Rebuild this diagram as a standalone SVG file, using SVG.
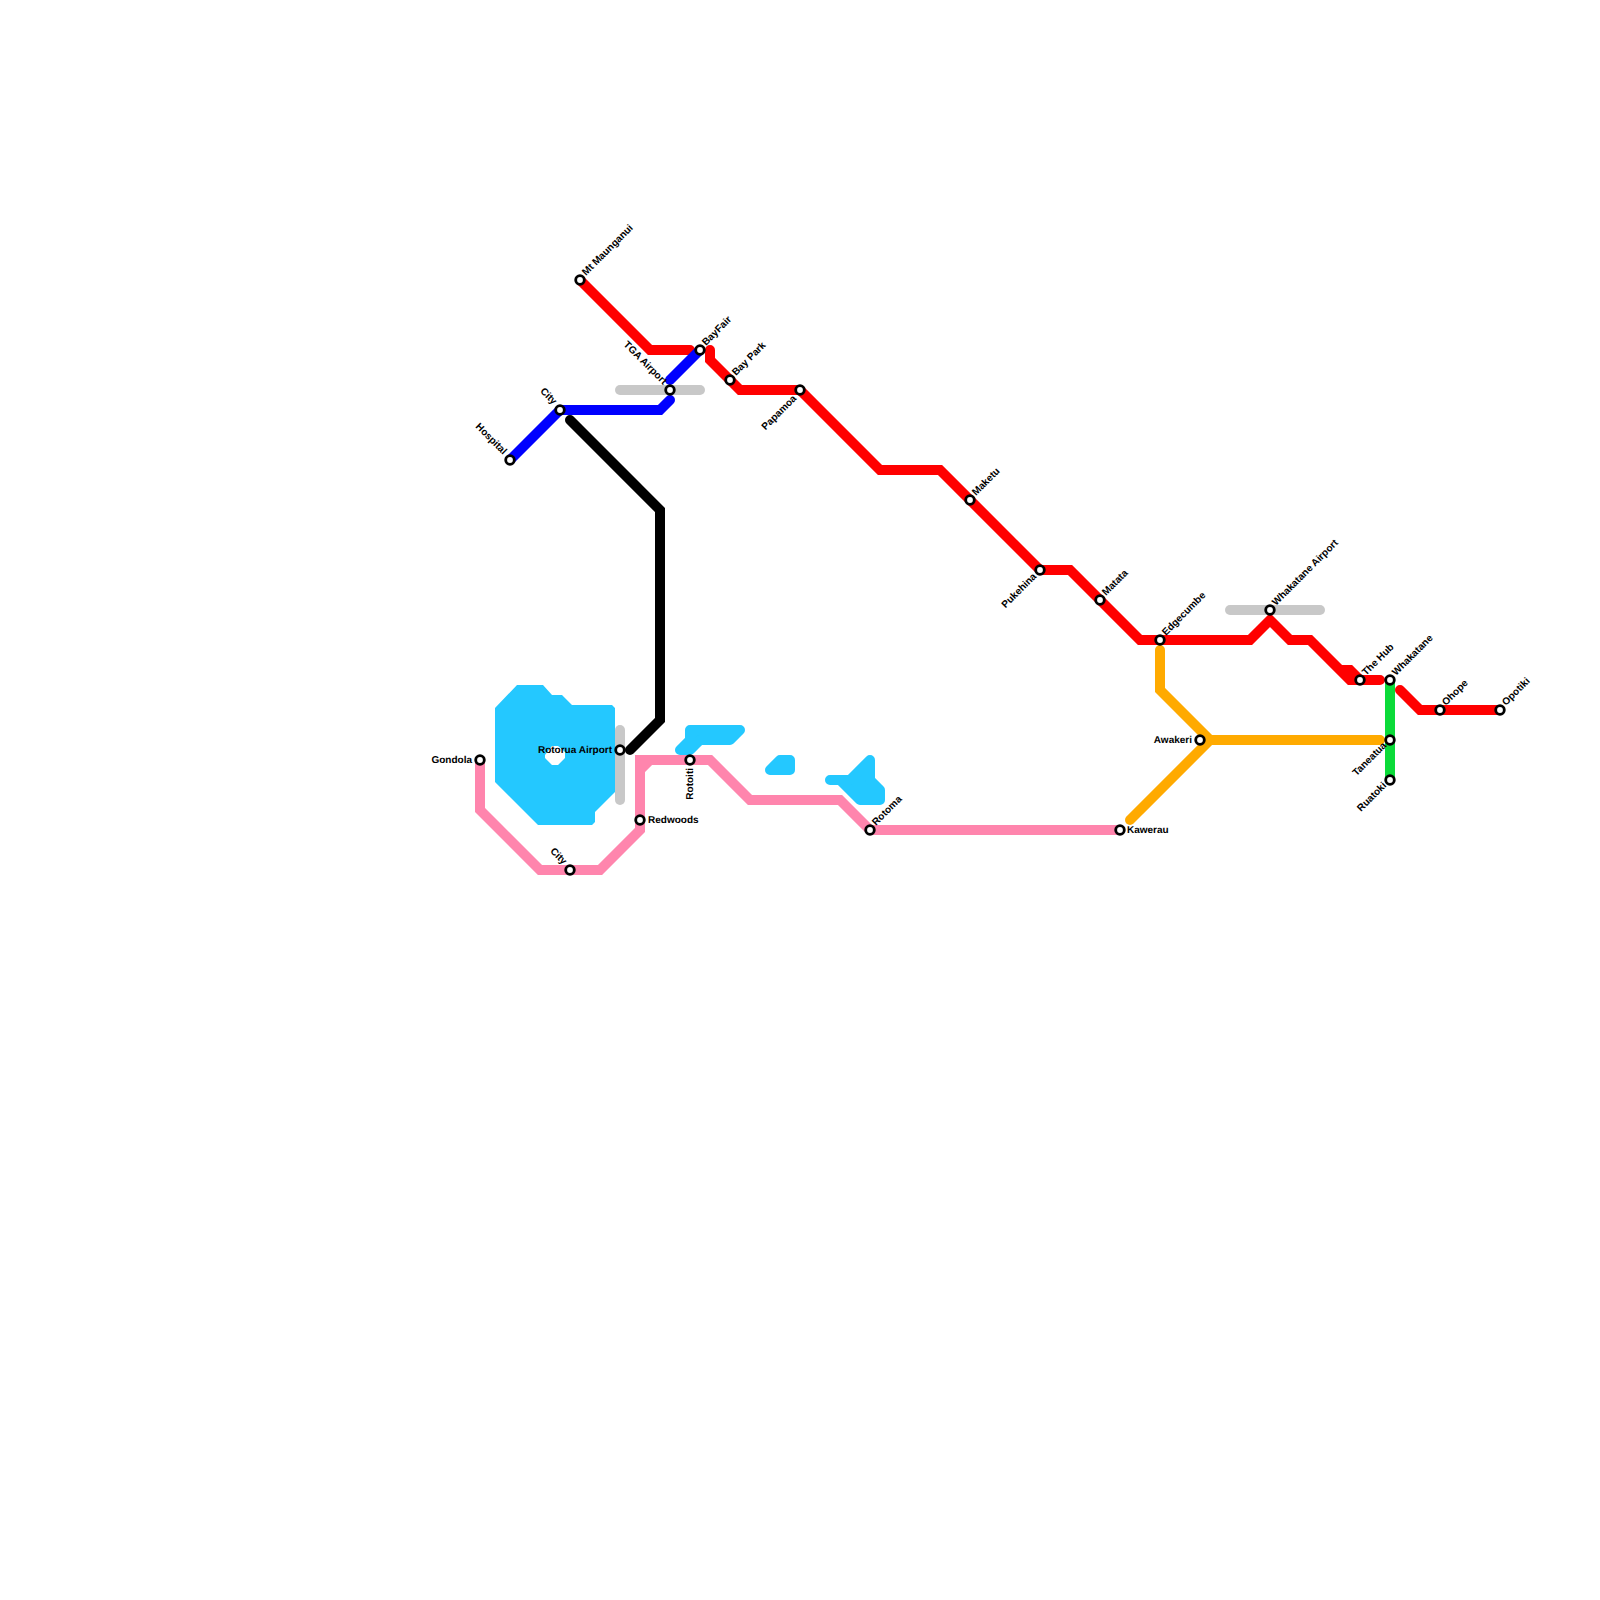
<svg xmlns="http://www.w3.org/2000/svg" width="1600" height="1600" viewBox="0 0 1600 1600">
<style>
.bg{fill:#fff}
.water{fill:#24c8ff;stroke:none}
.pond{fill:#24c8ff;stroke:#24c8ff;stroke-width:10;stroke-linejoin:round}
.line{fill:none;stroke-width:10;stroke-linecap:round;stroke-linejoin:miter;stroke-miterlimit:4}
.butt{stroke-linecap:butt}
.red{stroke:#ff0000}.blue{stroke:#0000ff}.black{stroke:#000}.pink{stroke:#ff85ad}.orange{stroke:#ffaa00}.green{stroke:#0bdb39}.grey{stroke:#c8c8c8}
.st{fill:#fff;stroke:#000;stroke-width:2.8}
text{font-family:"Liberation Sans",Arial,sans-serif;font-size:10px;font-weight:bold;fill:#000;text-rendering:geometricPrecision}
.e{text-anchor:end}
</style>
<rect class="bg" width="1600" height="1600"/>
<g id="water">
<path class="water" fill-rule="evenodd" d="M495 708L517 685H543L552 695H562L572 705H612L615 708V792L595 812V822L592 825H538L495 782ZM545 755V758L552 765H558L565 758V752L558 746H552Z"/>
<path class="pond" d="M680 750L690 740V730H740L730 740H700L690 750Z"/>
<path class="pond" d="M770 770L780 760H790V770Z"/>
<path class="pond" d="M830 780H850L870 760V780L880 790V800H860L840 780Z"/>
</g>
<g id="connectors">
<path class="line grey" d="M620 730V800"/>
<path class="line grey" d="M620 390H700"/>
<path class="line grey" d="M1230 610H1320"/>
<path class="line black" d="M570 420L660 510V720L630 750"/>
<path class="line red" d="M580 280L650 350H690"/>
<path class="line red" d="M710 350V360L740 390H800L880 470H940L1040 570H1070L1140 640H1250L1270 620L1290 640H1310L1350 680H1380"/>
<path class="line red butt" d="M1340 670H1350L1360 680"/>
<path class="line red" d="M1400 690L1420 710H1500"/>
<path class="line blue" d="M510 460L560 410H660L670 400"/>
<path class="line blue" d="M670 380L700 350"/>
<path class="line pink" d="M480 760V810L540 870H600L640 830V770L650 760H710L750 800H840L870 830H1120"/>
<path class="line pink butt" d="M640 775V760H655"/>
<path class="line orange" d="M1160 650V690L1210 740H1380"/>
<path class="line orange" d="M1210 740L1130 820"/>
<path class="line green butt" d="M1390 680V780"/>
</g>
<g id="s-mt-maunganui"><circle class="st" cx="580" cy="280" r="4.3"/><text transform="translate(586 276) rotate(-45)">Mt Maunganui</text></g>
<g id="s-bayfair"><circle class="st" cx="700" cy="350" r="4.3"/><text transform="translate(706 346) rotate(-45)">BayFair</text></g>
<g id="s-bay-park"><circle class="st" cx="730" cy="380" r="4.3"/><text transform="translate(736 376) rotate(-45)">Bay Park</text></g>
<g id="s-papamoa"><circle class="st" cx="800" cy="390" r="4.3"/><text class="e" transform="translate(797 399) rotate(-45)">Papamoa</text></g>
<g id="s-tga"><circle class="st" cx="670" cy="390" r="4.3"/><text class="e" transform="translate(663 385) rotate(45)">TGA Airport</text></g>
<g id="s-city-blue"><circle class="st" cx="560" cy="410" r="4.3"/><text class="e" transform="translate(553 405) rotate(45)">City</text></g>
<g id="s-hospital"><circle class="st" cx="510" cy="460" r="4.3"/><text class="e" transform="translate(503 455) rotate(45)">Hospital</text></g>
<g id="s-maketu"><circle class="st" cx="970" cy="500" r="4.3"/><text transform="translate(976 496) rotate(-45)">Maketu</text></g>
<g id="s-pukehina"><circle class="st" cx="1040" cy="570" r="4.3"/><text class="e" transform="translate(1037 577) rotate(-45)">Pukehina</text></g>
<g id="s-matata"><circle class="st" cx="1100" cy="600" r="4.3"/><text transform="translate(1106 596) rotate(-45)">Matata</text></g>
<g id="s-edgecumbe"><circle class="st" cx="1160" cy="640" r="4.3"/><text transform="translate(1166 636) rotate(-45)">Edgecumbe</text></g>
<g id="s-whakatane-airport"><circle class="st" cx="1270" cy="610" r="4.3"/><text transform="translate(1276 606) rotate(-45)">Whakatane Airport</text></g>
<g id="s-hub"><circle class="st" cx="1360" cy="680" r="4.3"/><text transform="translate(1366 676) rotate(-45)">The Hub</text></g>
<g id="s-whakatane"><circle class="st" cx="1390" cy="680" r="4.3"/><text transform="translate(1396 676) rotate(-45)">Whakatane</text></g>
<g id="s-ohope"><circle class="st" cx="1440" cy="710" r="4.3"/><text transform="translate(1446 706) rotate(-45)">Ohope</text></g>
<g id="s-opotiki"><circle class="st" cx="1500" cy="710" r="4.3"/><text transform="translate(1506 706) rotate(-45)">Opotiki</text></g>
<g id="s-taneatua"><circle class="st" cx="1390" cy="740" r="4.3"/><text class="e" transform="translate(1387 746) rotate(-45)">Taneatua</text></g>
<g id="s-ruatoki"><circle class="st" cx="1390" cy="780" r="4.3"/><text class="e" transform="translate(1387 786) rotate(-45)">Ruatoki</text></g>
<g id="s-awakeri"><circle class="st" cx="1200" cy="740" r="4.3"/><text class="e" x="1192" y="743">Awakeri</text></g>
<g id="s-kawerau"><circle class="st" cx="1120" cy="830" r="4.3"/><text x="1127" y="833">Kawerau</text></g>
<g id="s-rotoma"><circle class="st" cx="870" cy="830" r="4.3"/><text transform="translate(876 826) rotate(-45)">Rotoma</text></g>
<g id="s-rotoiti"><circle class="st" cx="690" cy="760" r="4.3"/><text class="e" transform="translate(693 768) rotate(-90)">Rotoiti</text></g>
<g id="s-redwoods"><circle class="st" cx="640" cy="820" r="4.3"/><text x="648" y="823">Redwoods</text></g>
<g id="s-city-pink"><circle class="st" cx="570" cy="870" r="4.3"/><text class="e" transform="translate(563 865) rotate(45)">City</text></g>
<g id="s-gondola"><circle class="st" cx="480" cy="760" r="4.3"/><text class="e" x="472" y="763">Gondola</text></g>
<g id="s-rotorua-airport"><circle class="st" cx="620" cy="750" r="4.3"/><text class="e" x="612" y="753">Rotorua Airport</text></g>
</svg>
